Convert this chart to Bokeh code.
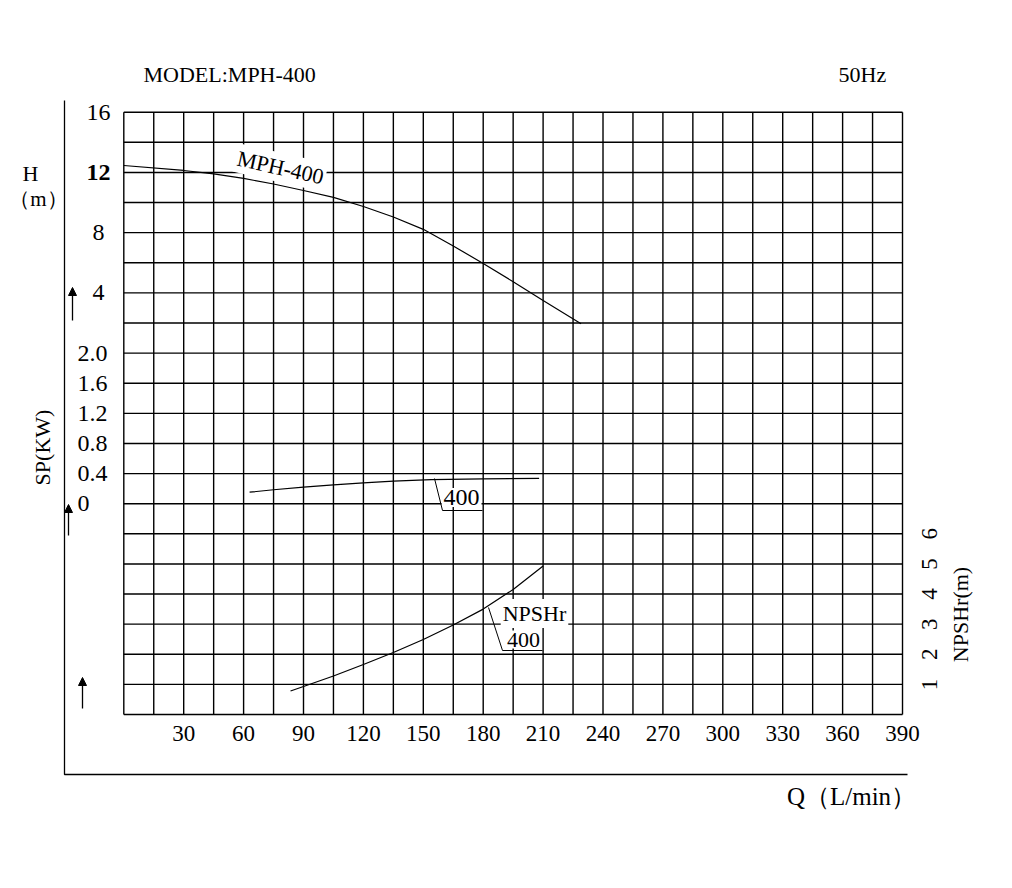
import math
from bokeh.plotting import figure
from bokeh.models import Range1d, Arrow, NormalHead
from bokeh.embed import file_html
from bokeh.resources import INLINE
from bokeh.core.properties import value

# ---------------- data ----------------
Q_TICKS = [30, 60, 90, 120, 150, 180, 210, 240, 270, 300, 330, 360, 390]
H_TICKS = [4, 8, 12, 16]
SP_TICKS = [0, 0.4, 0.8, 1.2, 1.6, 2.0]
SP_TICK_LABELS = ["0", "0.4", "0.8", "1.2", "1.6", "2.0"]
NPSH_TICKS = [1, 2, 3, 4, 5, 6]
Q_GRID = list(range(0, 391, 15))      # grid every 15 L/min
ROW_GRID = list(range(0, 21))          # 20 grid rows

# Head curve H (m)
Q_H = [0, 30, 45, 60, 75, 90, 105, 120, 135, 150, 165, 180, 195, 210, 229]
H_VAL = [12.46, 12.13, 11.90, 11.60, 11.23, 10.80, 10.34, 9.74, 9.04, 8.22,
         7.12, 5.95, 4.74, 3.49, 1.95]

# Shaft power SP (kW)
Q_SP = [63, 75, 90, 105, 120, 135, 154, 180, 208]
SP_VAL = [0.153, 0.185, 0.219, 0.251, 0.277, 0.299, 0.321, 0.330, 0.335]

# NPSHr (m)
Q_NPSH = [83.5, 90, 105, 120, 135, 150, 165, 180, 195, 210]
NPSH_VAL = [0.78, 0.93, 1.28, 1.66, 2.06, 2.49, 2.97, 3.50, 4.15, 4.93]

# ---------------- layout ----------------
W, HT = 996, 868
OFF = 0
GX0, GXS = 123.3, 1.9967   # page px of Q=0, px per L/min
GY0, GYS = 714.0, 30.115   # page px of grid row 0, px per row

def X(px):
    return (px - GX0) / GXS

def R(py):
    return (GY0 - py) / GYS

r_bot, r_top = R(OFF + HT), R(OFF)

p = figure(width=W, height=HT,
           x_range=Range1d(X(OFF), X(OFF + W)),
           y_range=Range1d((r_bot - 12) * 2, (r_top - 12) * 2),   # H (m)
           x_axis_type=None, y_axis_type=None,
           toolbar_location=None, output_backend="svg", min_border=0)
p.outline_line_color = None
p.background_fill_color = "white"
p.border_fill_color = "white"
p.extra_y_ranges = {
    "sp": Range1d((r_bot - 7) * 0.4, (r_top - 7) * 0.4),
    "npsh": Range1d(r_bot, r_top),
}

FONT = value("Liberation Serif")
BLK = "black"

# grid
n = len(Q_GRID)
p.segment(x0=Q_GRID, y0=[0] * n, x1=Q_GRID, y1=[20] * n, y_range_name="npsh",
          line_color=BLK, line_width=1.4)
m = len(ROW_GRID)
p.segment(x0=[0] * m, y0=ROW_GRID, x1=[390] * m, y1=ROW_GRID, y_range_name="npsh",
          line_color=BLK, line_width=1.4)

# outer frame
p.line(x=[X(64), X(64), X(907)], y=[R(100), R(774), R(774)], y_range_name="npsh",
       line_color=BLK, line_width=1.3)

# tick labels
p.text(x=Q_TICKS, y=[R(733)] * len(Q_TICKS), text=[str(q) for q in Q_TICKS],
       y_range_name="npsh", text_align="center", text_baseline="middle",
       text_font=FONT, text_font_size="23px", text_color=BLK)
p.text(x=[X(98)] * len(H_TICKS), y=H_TICKS, text=[str(h) for h in H_TICKS],
       text_font_style=["normal", "normal", "bold", "normal"],
       text_align="center", text_baseline="middle",
       text_font=FONT, text_font_size="24px", text_color=BLK)
p.text(x=[X(77)] * len(SP_TICKS), y=SP_TICKS, text=SP_TICK_LABELS, y_range_name="sp",
       text_align="left", text_baseline="middle",
       text_font=FONT, text_font_size="24px", text_color=BLK)
p.text(x=[X(929)] * len(NPSH_TICKS), y=NPSH_TICKS, text=[str(v) for v in NPSH_TICKS],
       y_range_name="npsh", angle=math.pi / 2, text_align="center", text_baseline="middle",
       text_font=FONT, text_font_size="23px", text_color=BLK)

# titles / axis names
def txt(px, py, s, size="21px", align="left", angle=0.0, bg=None, style="normal"):
    kw = {}
    if bg:
        kw = dict(background_fill_color=bg, padding=2)
    p.text(x=[X(px)], y=[R(py)], text=[s], y_range_name="npsh", angle=angle,
           text_align=align, text_baseline="middle", text_font=FONT,
           text_font_size=size, text_color=BLK, text_font_style=style, **kw)

txt(143, 74, "MODEL:MPH-400", size="22px")
txt(838, 74, "50Hz", size="22px")
txt(30, 173, "H", size="22px", align="center")
txt(38, 198, "（m）", size="21px", align="center")
txt(42, 447, "SP(KW)", size="22px", align="center", angle=math.pi / 2)
txt(960, 614, "NPSHr(m)", size="22px", align="center", angle=math.pi / 2)
txt(851, 796, "Q（L/min）", size="25px", align="center")

# curve labels (white background masks grid)
txt(280, 167, "MPH-400", size="22px", align="center", angle=-0.22, bg="white")
txt(461, 497, "400", size="24px", align="center", bg="white")
txt(534, 613, "NPSHr", size="22px", align="center", bg="white")
txt(523, 639, "400", size="22px", align="center", bg="white")

# leader lines
p.line(x=[X(434), X(442), X(482)], y=[R(478), R(510), R(510)], y_range_name="npsh",
       line_color=BLK, line_width=1)
p.line(x=[X(488), X(502), X(542)], y=[R(607), R(650), R(650)], y_range_name="npsh",
       line_color=BLK, line_width=1)

# curves
p.line(Q_H, H_VAL, line_color=BLK, line_width=1.2)
p.line(Q_SP, SP_VAL, y_range_name="sp", line_color=BLK, line_width=1.2)
p.line(Q_NPSH, NPSH_VAL, y_range_name="npsh", line_color=BLK, line_width=1.2)

# direction arrows
for ax, y0, y1 in [(72, 320, 287), (68, 535, 504), (82, 708, 677)]:
    p.add_layout(Arrow(end=NormalHead(size=8, fill_color=BLK, line_color=BLK),
                       x_start=X(ax), y_start=R(y0), x_end=X(ax), y_end=R(y1),
                       y_range_name="npsh", line_color=BLK, line_width=1.3))

open("out.html", "w").write(file_html(p, INLINE))
